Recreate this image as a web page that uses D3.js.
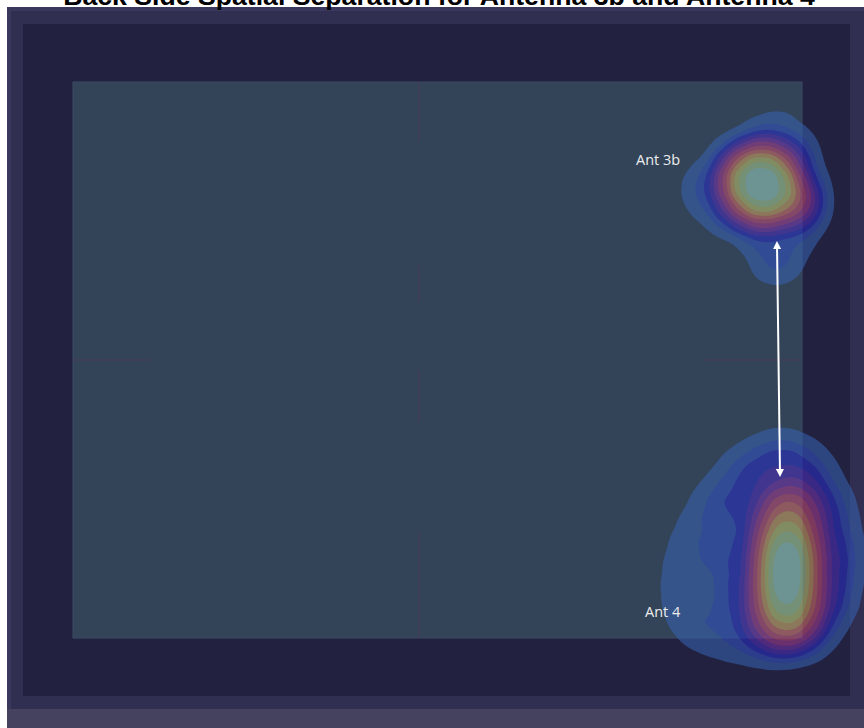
<!DOCTYPE html>
<html>
<head>
<meta charset="utf-8">
<script src="https://cdn.jsdelivr.net/npm/d3@7"></script>
<style>
  html, body { margin: 0; padding: 0; background: #ffffff; }
  svg { display: block; }
</style>
</head>
<body>
<svg id="chart" width="864" height="728"></svg>
<script>
// Board dimensions in cm (back side of the device)
const boardWidth = 72.9;
const boardHeight = 55.6;

// Centre reference marks on the board (cm)
const crossX = 34.6;
const crossY = 27.8;
const crossVerticalSegments = [[0, 5.9], [18.3, 22.0], [28.8, 34.0], [45.1, 55.6]];
const crossHorizontalSegments = [[0, 7.7], [63.0, 72.7]];

// Measured field samples for Antenna 3b: [x cm, y cm, weight]
const ant3bSamples = [
  [68.9, 10.3, 2.5], [67.1, 10.1, 2], [70.7, 10.3, 2], [68.9, 8.5, 2], [69.0, 12.0, 2],
  [67.5, 8.8, 1], [70.3, 8.8, 1], [67.5, 11.7, 1], [70.4, 11.8, 1],
  [72.2, 10.8, 0.7], [71.5, 13.1, 0.7], [69.0, 13.6, 0.7], [66.5, 12.5, 0.7],
  [65.6, 10.2, 0.7], [66.5, 8.0, 0.7], [69.0, 7.0, 0.7], [71.5, 7.8, 0.7], [72.9, 12.1, 0.8],
  [70.5, 4.6, 0.15], [68.4, 5.8, 0.15], [66.2, 7.8, 0.15], [63.9, 9.3, 0.15],
  [62.7, 10.6, 0.15], [63.5, 12.3, 0.15], [65.5, 13.5, 0.15], [67.7, 14.6, 0.15],
  [69.2, 16.3, 0.15], [69.7, 18.3, 0.15], [71.2, 18.0, 0.15], [72.2, 15.8, 0.15],
  [73.2, 13.8, 0.15], [73.5, 11.3, 0.15], [73.2, 8.8, 0.15], [72.2, 6.3, 0.15]
];

// Measured field samples for Antenna 4: [x cm, y cm, weight]
const ant4Samples = [
  // main lobe
  [71.4, 45.8, 3], [71.4, 47.3, 3], [71.4, 48.8, 3], [71.3, 50.3, 3], [71.3, 51.8, 3],
  [71.4, 42.8, 1.5], [71.3, 53.8, 1.2],
  // inner shoulder
  [74.4, 48.8, 0.4], [74.2, 51.0, 0.4], [73.5, 52.9, 0.4], [72.6, 54.2, 0.4],
  [71.4, 54.6, 0.4], [70.3, 54.2, 0.4], [69.3, 52.9, 0.4], [68.6, 51.0, 0.4],
  [68.4, 48.8, 0.4], [68.6, 46.3, 0.4], [69.3, 44.2, 0.4], [70.3, 42.8, 0.4],
  [71.4, 42.3, 0.4], [72.6, 42.8, 0.4], [73.5, 44.2, 0.4], [74.2, 46.3, 0.4],
  // outer shoulder
  [75.7, 47.3, 0.33], [75.0, 51.3, 0.33], [73.2, 54.2, 0.33], [70.7, 55.3, 0.33],
  [67.9, 54.2, 0.33], [65.9, 51.3, 0.33], [65.2, 47.3, 0.33], [65.9, 42.8, 0.33],
  [67.9, 39.5, 0.33], [70.7, 38.3, 0.33], [73.2, 39.5, 0.33], [75.0, 42.8, 0.33],
  // fringe
  [71.0, 37.0, 0.12], [68.9, 37.8, 0.12], [66.9, 39.2, 0.12], [65.2, 40.8, 0.12],
  [63.7, 42.6, 0.12], [62.5, 44.6, 0.12], [61.6, 46.8, 0.12], [61.1, 49.0, 0.12],
  [61.0, 51.3, 0.12], [61.5, 53.3, 0.12], [62.7, 54.6, 0.12], [64.5, 55.3, 0.12],
  [66.7, 55.8, 0.12], [68.9, 55.8, 0.12], [71.2, 55.5, 0.12], [73.3, 54.9, 0.12],
  [75.0, 53.6, 0.12], [76.1, 51.6, 0.12], [76.7, 49.3, 0.12], [76.7, 46.8, 0.12],
  [76.2, 44.3, 0.12], [75.3, 41.8, 0.12], [74.1, 39.6, 0.12], [72.7, 38.0, 0.12]
];

// Antenna labels and the separation arrow (cm)
const labelText = ["Ant 3b", "Ant 4"];
const labelX = [56.3, 57.2];
const labelY = [8.3, 53.5];
const arrowFrom = [70.4, 16.3];
const arrowTo = [70.7, 39.1];

// Relative density levels and their colours (low -> high)
const levelFractions = [0.011, 0.035, 0.06, 0.09, 0.13, 0.18, 0.25, 0.33, 0.42, 0.53, 0.65, 0.8];
const levelColors = ["#365fab", "#3150be", "#292ebe", "#4a2eb4", "#6f33a6", "#9a3a8c", "#b84a72",
                     "#c76963", "#c79b5b", "#b7bc6b", "#a0c38c", "#95c9bb"];

const title = "Back Side Spatial Separation for Antenna 3b and Antenna 4";

const svg = d3.select("#chart");
const W = 864, H = 728;

// Frame layers
svg.append("rect").attr("x", 0).attr("y", 0).attr("width", W).attr("height", H).attr("fill", "#ffffff");
svg.append("rect").attr("x", 7).attr("y", 7).attr("width", W - 7).attr("height", 702).attr("fill", "#3a385c");
svg.append("rect").attr("x", 11).attr("y", 11).attr("width", W - 11).attr("height", 698).attr("fill", "#302e51");
svg.append("rect").attr("x", 7).attr("y", 709).attr("width", W - 7).attr("height", H - 709).attr("fill", "#44425f");
svg.append("rect").attr("x", 23).attr("y", 24).attr("width", 827).attr("height", 672).attr("fill", "#22213f");

// Board scales
const x = d3.scaleLinear().domain([0, boardWidth]).range([73, 802]);
const y = d3.scaleLinear().domain([0, boardHeight]).range([82, 638]);

svg.append("rect")
  .attr("x", x(0)).attr("y", y(0))
  .attr("width", x(boardWidth) - x(0)).attr("height", y(boardHeight) - y(0))
  .attr("fill", "#334459").attr("stroke", "#3a4a62").attr("stroke-width", 1);

// Centre marks
const marks = svg.append("g").attr("stroke", "#3e3e57").attr("stroke-width", 2);
marks.selectAll("line.v").data(crossVerticalSegments).join("line")
  .attr("class", "v")
  .attr("x1", x(crossX)).attr("x2", x(crossX))
  .attr("y1", d => y(d[0])).attr("y2", d => y(d[1]));
marks.selectAll("line.h").data(crossHorizontalSegments).join("line")
  .attr("class", "h")
  .attr("y1", y(crossY)).attr("y2", y(crossY))
  .attr("x1", d => x(d[0])).attr("x2", d => x(d[1]));

// Density contours for one antenna
function drawDensity(samples, bandwidth) {
  const base = d3.contourDensity()
    .x(d => x(d[0])).y(d => y(d[1])).weight(d => d[2])
    .size([W, H]).cellSize(2).bandwidth(bandwidth);
  const probe = base.thresholds(400)(samples).filter(c => c.coordinates.length > 0);
  const peak = d3.max(probe, c => c.value);
  const contours = base.thresholds(levelFractions.map(f => f * peak))(samples);
  const g = svg.append("g").attr("opacity", 0.6);
  g.selectAll("path").data(contours).join("path")
    .attr("d", d3.geoPath())
    .attr("fill", (d, i) => levelColors[i]);
}
drawDensity(ant3bSamples, 13);
drawDensity(ant4Samples, 16);

// Separation arrow
const defs = svg.append("defs");
["start", "end"].forEach(kind => {
  defs.append("marker")
    .attr("id", "head-" + kind)
    .attr("viewBox", "0 0 10 10").attr("refX", 5).attr("refY", 5)
    .attr("markerWidth", 4).attr("markerHeight", 4)
    .attr("orient", kind === "start" ? "auto-start-reverse" : "auto")
    .append("path").attr("d", "M0,0 L10,5 L0,10 Z").attr("fill", "#ffffff");
});
svg.append("line")
  .attr("x1", x(arrowFrom[0])).attr("y1", y(arrowFrom[1]))
  .attr("x2", x(arrowTo[0])).attr("y2", y(arrowTo[1]))
  .attr("stroke", "#ffffff").attr("stroke-width", 2)
  .attr("marker-start", "url(#head-start)").attr("marker-end", "url(#head-end)");

// Antenna labels
svg.selectAll("text.lbl").data(labelText).join("text")
  .attr("class", "lbl")
  .attr("x", (d, i) => x(labelX[i])).attr("y", (d, i) => y(labelY[i]))
  .attr("font-family", "'Open Sans', 'Noto Sans', sans-serif")
  .attr("font-size", 14.5).attr("fill", "#ececec")
  .text(d => d);

// Title (partly above the visible area)
const t = svg.append("text")
  .attr("x", 439).attr("y", 5)
  .attr("text-anchor", "middle")
  .attr("font-family", "'Liberation Sans', Arial, sans-serif")
  .attr("font-weight", "bold").attr("font-size", 20).attr("fill", "#000000")
  .text(title);
const tw = t.node().getComputedTextLength();
t.attr("font-size", 20 * 752 / tw);
</script>
</body>
</html>
